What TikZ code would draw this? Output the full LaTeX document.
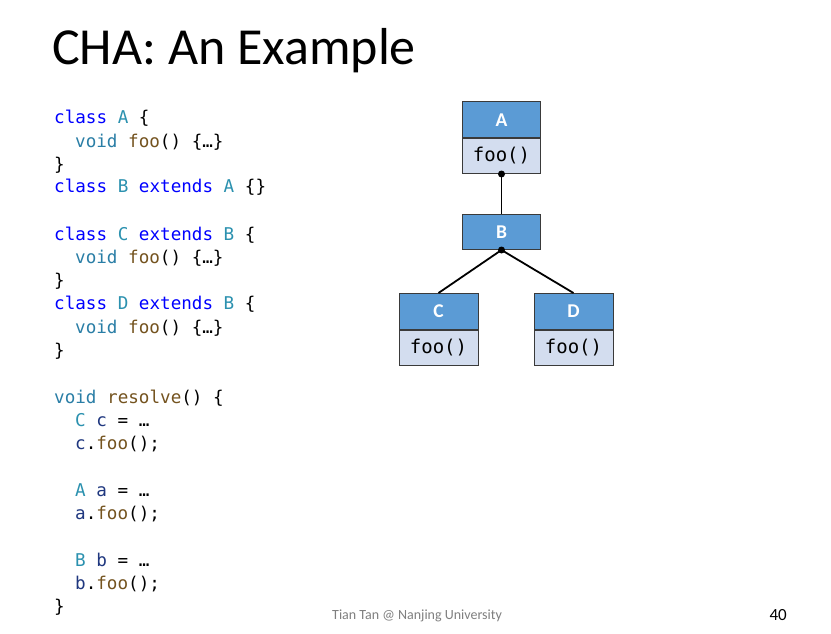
\documentclass[tikz,border=0pt]{standalone}
\usepackage{fontspec}
\setmainfont{Carlito}
\setmonofont{DejaVu Sans Mono}
\definecolor{kwblue}{HTML}{0000FF}
\definecolor{tyteal}{HTML}{2B91AF}
\definecolor{vdteal}{HTML}{2A7EA6}
\definecolor{fnbrown}{HTML}{74531F}
\definecolor{varnavy}{HTML}{1F377F}
\definecolor{hdrblue}{HTML}{5B9BD5}
\definecolor{bdyblue}{HTML}{D3DDEF}
\definecolor{edgegray}{HTML}{3A3A3A}
\definecolor{footgray}{HTML}{7F7F7F}
\newcommand\ckw[1]{\textcolor{kwblue}{#1}}
\newcommand\cty[1]{\textcolor{tyteal}{#1}}
\newcommand\cvd[1]{\textcolor{vdteal}{#1}}
\newcommand\cfn[1]{\textcolor{fnbrown}{#1}}
\newcommand\cvar[1]{\textcolor{varnavy}{#1}}
\tikzset{
  codeline/.style={anchor=base west, inner sep=0pt, font=\ttfamily\fontsize{17.6}{20}\selectfont},
  hdr/.style={draw=edgegray, line width=1pt, fill=hdrblue, text=white, font=\bfseries\fontsize{19.5}{22}\selectfont, inner sep=0pt},
  bdy/.style={draw=edgegray, line width=1pt, fill=bdyblue, text=black, font=\ttfamily\fontsize{19}{22}\selectfont, inner sep=0pt},
  link/.style={draw=black, line width=1.8pt},
  dotn/.style={circle, fill=black, inner sep=0pt, minimum size=7pt},
}
\begin{document}
\begin{tikzpicture}[x=1pt,y=-1pt]
\useasboundingbox[fill=white] (0,0) rectangle (831,634);
% title
\node[anchor=base west, inner sep=0pt, font=\fontsize{52}{60}\selectfont] (title) at (52,65) {CHA: An Example};
% code
\node[codeline] (l1) at (54,124) {\ckw{class} \cty{A} \{};
\node[codeline] (l2) at (75,147) {\cvd{void} \cfn{foo}() \{…\}};
\node[codeline] (l3) at (54,170) {\}};
\node[codeline] (l4) at (54,193) {\ckw{class} \cty{B} \ckw{extends} \cty{A} \{\}};
\node[codeline] (l5) at (54,240) {\ckw{class} \cty{C} \ckw{extends} \cty{B} \{};
\node[codeline] (l6) at (75,263) {\cvd{void} \cfn{foo}() \{…\}};
\node[codeline] (l7) at (54,286) {\}};
\node[codeline] (l8) at (54,309) {\ckw{class} \cty{D} \ckw{extends} \cty{B} \{};
\node[codeline] (l9) at (75,333) {\cvd{void} \cfn{foo}() \{…\}};
\node[codeline] (l10) at (54,356) {\}};
\node[codeline] (l11) at (54,403) {\cvd{void} \cfn{resolve}() \{};
\node[codeline] (l12) at (75,426) {\cty{C} \cvar{c} = …};
\node[codeline] (l13) at (75,449) {\cvar{c}.\cfn{foo}();};
\node[codeline] (l14) at (75,496) {\cty{A} \cvar{a} = …};
\node[codeline] (l15) at (75,519) {\cvar{a}.\cfn{foo}();};
\node[codeline] (l16) at (75,566) {\cty{B} \cvar{b} = …};
\node[codeline] (l17) at (75,589) {\cvar{b}.\cfn{foo}();};
\node[codeline] (l18) at (54,612) {\}};
% class hierarchy
\node[hdr, minimum width=78pt, minimum height=35.5pt, anchor=north west] (Ah) at (462,101.5) {A};
\node[bdy, minimum width=78pt, minimum height=35pt, anchor=north] (Ab) at (Ah.south) {foo()};
\node[hdr, minimum width=78pt, minimum height=35.5pt, anchor=north west] (Bh) at (462,213.5) {B};
\node[hdr, minimum width=79pt, minimum height=35.5pt, anchor=north west] (Ch) at (398.5,293) {C};
\node[bdy, minimum width=79pt, minimum height=35pt, anchor=north] (Cb) at (Ch.south) {foo()};
\node[hdr, minimum width=79pt, minimum height=35.5pt, anchor=north west] (Dh) at (533.5,293) {D};
\node[bdy, minimum width=79pt, minimum height=35pt, anchor=north] (Db) at (Dh.south) {foo()};
\draw[link] (Ab.south) -- (Bh.north);
\draw[link] (Bh.south) -- (Ch.north);
\draw[link] (Bh.south) -- (Dh.north);
\node[dotn] (dA) at (Ab.south) {};
\node[dotn] (dB) at (Bh.south) {};
% footer
\node[anchor=base west, inner sep=0pt, text=footgray, font=\fontsize{14}{16}\selectfont] (foot) at (332,619) {Tian Tan @ Nanjing University};
\node[anchor=base east, inner sep=0pt, font=\fontsize{17}{20}\selectfont] (page) at (787,620) {40};
\end{tikzpicture}
\end{document}
